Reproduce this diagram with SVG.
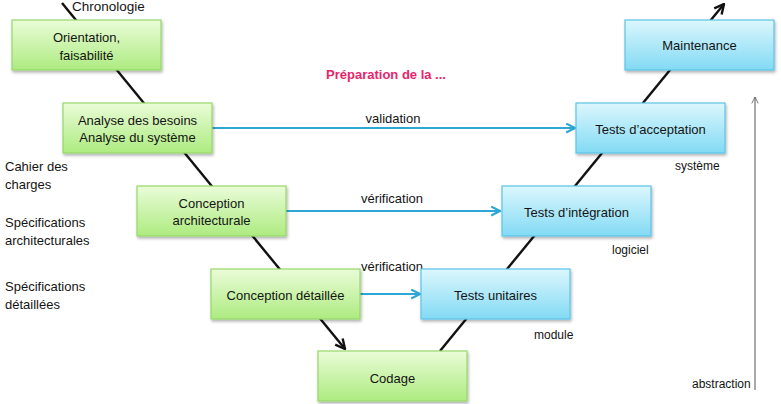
<svg xmlns="http://www.w3.org/2000/svg" width="781" height="404" viewBox="0 0 781 404">
<style>
.t{font-family:"Liberation Sans",Arial,sans-serif;font-size:13px;fill:#141414;text-anchor:middle;dominant-baseline:central}
.l{font-family:"Liberation Sans",Arial,sans-serif;font-size:13px;fill:#141414;dominant-baseline:central}
.s{font-family:"Liberation Sans",Arial,sans-serif;font-size:12px;fill:#141414;dominant-baseline:central}
.g{fill:url(#gg);stroke:#97d86a;stroke-width:1.2;filter:url(#sh)}
.b{fill:url(#bg);stroke:#5cc4e8;stroke-width:1.2;filter:url(#sh)}
.v{fill:none;stroke:#111;stroke-width:2.4}
.c{fill:none;stroke:#2ea6d6;stroke-width:2.2}
</style>
<defs>
<linearGradient id="gg" x1="0" y1="0" x2="0" y2="1"><stop offset="0" stop-color="#eafcd8"/><stop offset="1" stop-color="#adeb80"/></linearGradient>
<linearGradient id="bg" x1="0" y1="0" x2="0" y2="1"><stop offset="0" stop-color="#dcf7fd"/><stop offset="1" stop-color="#82daf4"/></linearGradient>
<filter id="sh" x="-10%" y="-10%" width="125%" height="140%"><feDropShadow dx="1" dy="2" stdDeviation="1.5" flood-color="#000" flood-opacity="0.3"/></filter>
<marker id="ak" viewBox="0 0 10 10" refX="9" refY="5" markerWidth="5" markerHeight="5" orient="auto" markerUnits="strokeWidth"><path d="M1,1 L9,5 L1,9" fill="none" stroke="#111" stroke-width="2"/></marker>
<marker id="ab" viewBox="0 0 10 10" refX="9" refY="5" markerWidth="5" markerHeight="5" orient="auto" markerUnits="strokeWidth"><path d="M1,1 L9,5 L1,9" fill="none" stroke="#2ea6d6" stroke-width="2"/></marker>
<marker id="ag" viewBox="0 0 10 10" refX="9" refY="5" markerWidth="8" markerHeight="8" orient="auto" markerUnits="strokeWidth"><path d="M1,1 L9,5 L1,9" fill="none" stroke="#555" stroke-width="1"/></marker>
</defs>
<g id="connectors">
<path class="v" d="M62,3 L345,349" marker-end="url(#ak)"/>
<path class="v" d="M440,351 L724,4" marker-end="url(#ak)"/>
<path class="c" d="M212,128 L575,128" marker-end="url(#ab)"/>
<path class="c" d="M286,211 L500,211" marker-end="url(#ab)"/>
<path class="c" d="M360,294 L420,294" marker-end="url(#ab)"/>
<path d="M755,390 L755,97" fill="none" stroke="#555" stroke-width="1" marker-end="url(#ag)"/>
</g>
<g id="labels">
<text class="l" x="72" y="6" style="font-size:13.5px">Chronologie</text>
<text class="t" x="386" y="74" style="fill:#e8246c;font-weight:bold;font-size:13px">Préparation de la ...</text>
<text class="t" x="393" y="118">validation</text>
<text class="t" x="392" y="198">vérification</text>
<text class="t" x="392" y="266">vérification</text>
<text class="l" x="5" y="166">Cahier des</text>
<text class="l" x="5" y="184">charges</text>
<text class="l" x="5" y="222">Spécifications</text>
<text class="l" x="5" y="240">architecturales</text>
<text class="l" x="5" y="286">Spécifications</text>
<text class="l" x="5" y="304">détaillées</text>
<text class="s" x="675" y="166">système</text>
<text class="s" x="612" y="250">logiciel</text>
<text class="s" x="534" y="335">module</text>
<text class="s" x="692" y="384">abstraction</text>
</g>
<g id="orientation"><rect class="g" x="12" y="20" width="149" height="50"/><text class="t" x="86.5" y="37">Orientation,</text><text class="t" x="86.5" y="55">faisabilité</text></g>
<g id="analyse"><rect class="g" x="63" y="103" width="149" height="50"/><text class="t" x="137.5" y="120">Analyse des besoins</text><text class="t" x="137.5" y="137">Analyse du système</text></g>
<g id="conception-architecturale"><rect class="g" x="137" y="186" width="149" height="50"/><text class="t" x="211.5" y="203">Conception</text><text class="t" x="211.5" y="220">architecturale</text></g>
<g id="conception-detaillee"><rect class="g" x="211" y="269" width="149" height="50"/><text class="t" x="285.5" y="295">Conception détaillée</text></g>
<g id="codage"><rect class="g" x="318" y="351" width="149" height="50"/><text class="t" x="392.5" y="378">Codage</text></g>
<g id="tests-unitaires"><rect class="b" x="421" y="269" width="149" height="50"/><text class="t" x="495.5" y="295">Tests unitaires</text></g>
<g id="tests-integration"><rect class="b" x="502" y="186" width="149" height="50"/><text class="t" x="576.5" y="212">Tests d’intégration</text></g>
<g id="tests-acceptation"><rect class="b" x="576" y="103" width="149" height="50"/><text class="t" x="650.5" y="129">Tests d’acceptation</text></g>
<g id="maintenance"><rect class="b" x="625" y="20" width="149" height="50"/><text class="t" x="699.5" y="45">Maintenance</text></g>
</svg>
